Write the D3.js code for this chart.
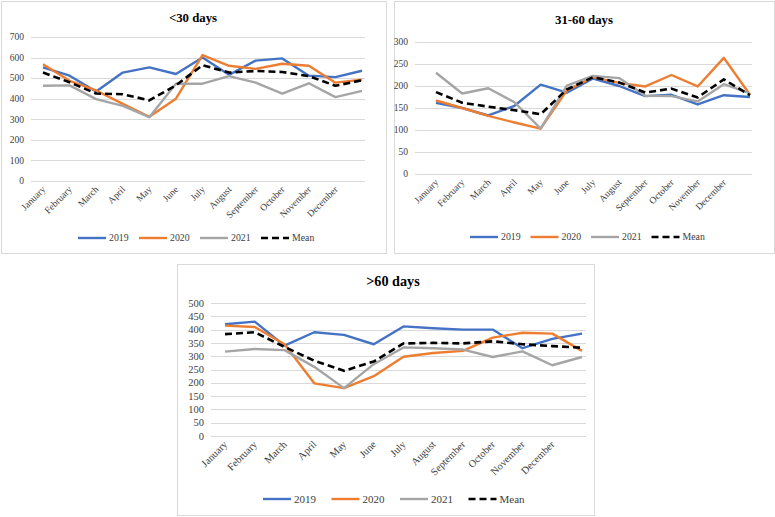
<!DOCTYPE html>
<html><head><meta charset="utf-8">
<script src="https://cdn.jsdelivr.net/npm/d3@7"></script>
<style>body{margin:0;background:#fff}svg{display:block}text{font-family:"Liberation Serif","Times New Roman",serif}</style>
</head><body>
<svg id="c" width="775" height="517"></svg>
<script>
// ---- data ----
const months = ["January","February","March","April","May","June","July","August","September","October","November","December",""];
const seriesNames = ["2019","2020","2021","Mean"];

const lt30_2019 = [552,512,435,527,552,520,600,516,585,596,512,505,536];
const lt30_2020 = [568,487,440,375,312,400,612,560,545,570,560,478,492];
const lt30_2021 = [463,465,398,365,310,473,473,510,478,425,475,408,438];
const lt30_mean = [527,480,425,422,392,465,563,527,535,530,510,463,490];
const lt30_ticks = [0,100,200,300,400,500,600,700];

const d3160_2019 = [162,150,133,155,203,185,217,200,177,180,158,179,175];
const d3160_2020 = [167,150,132,117,103,190,220,207,199,225,199,264,180];
const d3160_2021 = [230,183,195,163,103,201,223,218,178,177,165,204,183];
const d3160_mean = [186,162,153,145,136,192,220,208,185,194,174,215,179];
const d3160_ticks = [0,50,100,150,200,250,300];

const gt60_2019 = [420,430,340,390,380,345,412,405,400,400,330,365,385];
const gt60_2020 = [415,410,345,198,180,225,298,312,320,370,388,385,320];
const gt60_2021 = [317,327,323,260,180,270,333,330,325,297,318,266,297];
const gt60_mean = [383,390,335,283,245,280,348,350,348,356,345,338,332];
const gt60_ticks = [0,50,100,150,200,250,300,350,400,450,500];

// ---- styles ----
const colors = ["#4472C4","#ED7D31","#A5A5A5","#000000"];

const panels = [
  {title:"<30 days", box:[1,1,386,253], x0:43, x1:362, g0:31, g1:365, y0:181, y1:37, max:700,
   ticks:lt30_ticks, tx:193, ty:22, legY:238, legX:78, legStep:61,
   titleFs:12.8, tickFs:9.5, xFs:9.5, legFs:9.8,
   data:[lt30_2019,lt30_2020,lt30_2021,lt30_mean]},
  {title:"31-60 days", box:[394,1,774,253], x0:436, x1:750, g0:415, g1:752, y0:174, y1:42, max:300,
   ticks:d3160_ticks, tx:584, ty:24, legY:237, legX:470, legStep:60.5,
   titleFs:12.8, tickFs:9.5, xFs:9.5, legFs:9.8,
   data:[d3160_2019,d3160_2020,d3160_2021,d3160_mean]},
  {title:">60 days", box:[177,264,594,515], x0:225, x1:582, g0:211, g1:586, y0:436, y1:303, max:500,
   ticks:gt60_ticks, tx:393, ty:286, legY:499, legX:263, legStep:68.5,
   titleFs:14.2, tickFs:10.5, xFs:10.3, legFs:11,
   data:[gt60_2019,gt60_2020,gt60_2021,gt60_mean]}
];

const svg = d3.select("#c");

panels.forEach(p => {
  const g = svg.append("g");
  g.append("rect").attr("x",p.box[0]+0.5).attr("y",p.box[1]+0.5)
    .attr("width",p.box[2]-p.box[0]).attr("height",p.box[3]-p.box[1])
    .attr("fill","#fff").attr("stroke","#d9d9d9").attr("stroke-width",1);

  const x = d3.scalePoint().domain(d3.range(months.length)).range([p.x0,p.x1]);
  const y = d3.scaleLinear().domain([0,p.max]).range([p.y0,p.y1]);

  // gridlines
  g.selectAll("line.grid").data(p.ticks).join("line")
    .attr("x1",p.g0).attr("x2",p.g1)
    .attr("y1",d=>Math.round(y(d))+0.5).attr("y2",d=>Math.round(y(d))+0.5)
    .attr("stroke","#d9d9d9").attr("stroke-width",1);

  // y tick labels
  g.selectAll("text.yt").data(p.ticks).join("text")
    .attr("x",p.g0-7).attr("y",d=>y(d)).attr("dy","0.35em")
    .attr("text-anchor","end").attr("font-size",p.tickFs)
    .attr("fill","#404040").text(d=>d);

  // x labels
  g.selectAll("text.xt").data(months).join("text")
    .attr("transform",(d,i)=>`translate(${x(i)+3},${p.y0+9}) rotate(-45)`)
    .attr("text-anchor","end").attr("font-size",p.xFs)
    .attr("fill","#404040").text(d=>d);

  // lines
  const line = d3.line().x((d,i)=>x(i)).y(d=>y(d));
  p.data.forEach((s,k) => {
    g.append("path").datum(s).attr("d",line).attr("fill","none")
      .attr("stroke",colors[k]).attr("stroke-width",k===3?2.6:2.4)
      .attr("stroke-linejoin","round")
      .attr("stroke-dasharray",k===3?"7,4":null);
  });

  // title
  g.append("text").attr("x",p.tx).attr("y",p.ty).attr("text-anchor","middle")
    .attr("font-size",p.titleFs).attr("font-weight","bold")
    .attr("fill","#000").text(p.title);

  // legend
  seriesNames.forEach((n,k) => {
    const lx = p.legX + k*p.legStep;
    g.append("line").attr("x1",lx).attr("x2",lx+28).attr("y1",p.legY).attr("y2",p.legY)
      .attr("stroke",colors[k]).attr("stroke-width",k===3?2.6:2.4)
      .attr("stroke-dasharray",k===3?"7,4":null);
    g.append("text").attr("x",lx+31).attr("y",p.legY).attr("dy","0.35em")
      .attr("font-size",p.legFs).attr("fill","#404040").text(n);
  });
});
</script>
</body></html>
